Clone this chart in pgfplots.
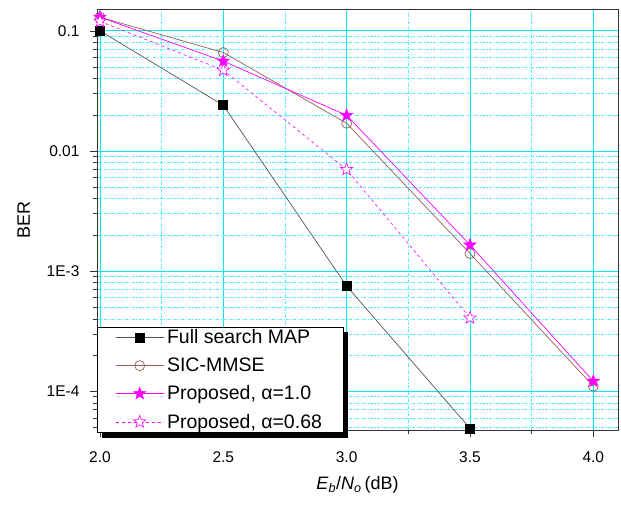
\documentclass[border=0pt]{standalone}
\usepackage{fontspec}
\setmainfont{Liberation Sans}
\usepackage{pgfplots}
\pgfplotsset{compat=1.18}
\usetikzlibrary{shadows}
\makeatletter
\tikzset{no preactions/.code={\let\tikz@preactions\pgfutil@empty}}
\makeatother
\definecolor{sicbrown}{RGB}{150,95,85}
\definecolor{mapgray}{RGB}{85,85,85}
\definecolor{gridcyan}{RGB}{0,235,245}
\definecolor{mag}{RGB}{255,0,255}
\pgfdeclareplotmark{fstar}{%
  \pgfpathmoveto{\pgfqpointpolar{90}{\pgfplotmarksize}}%
  \pgfpathlineto{\pgfqpointpolar{126}{0.42\pgfplotmarksize}}%
  \pgfpathlineto{\pgfqpointpolar{162}{\pgfplotmarksize}}%
  \pgfpathlineto{\pgfqpointpolar{198}{0.42\pgfplotmarksize}}%
  \pgfpathlineto{\pgfqpointpolar{234}{\pgfplotmarksize}}%
  \pgfpathlineto{\pgfqpointpolar{270}{0.42\pgfplotmarksize}}%
  \pgfpathlineto{\pgfqpointpolar{306}{\pgfplotmarksize}}%
  \pgfpathlineto{\pgfqpointpolar{342}{0.42\pgfplotmarksize}}%
  \pgfpathlineto{\pgfqpointpolar{18}{\pgfplotmarksize}}%
  \pgfpathlineto{\pgfqpointpolar{54}{0.42\pgfplotmarksize}}%
  \pgfpathclose
  \pgfusepathqfillstroke}
\begin{document}
\begin{tikzpicture}
\begin{axis}[
  scale only axis, width=521pt, height=421pt,
  xmin=1.988, xmax=4.10,
  ymode=log, ymin=4.75e-5, ymax=0.152,
  xtick={2,2.5,3,3.5,4}, xticklabels={2.0,2.5,3.0,3.5,4.0},
  minor xtick={2.25,2.75,3.25,3.75},
  ytick={1e-4,1e-3,1e-2,1e-1}, yticklabels={1E-4,1E-3,0.01,0.1},
  minor ytick={5e-5,6e-5,7e-5,8e-5,9e-5,2e-4,3e-4,4e-4,5e-4,6e-4,7e-4,8e-4,9e-4,2e-3,3e-3,4e-3,5e-3,6e-3,7e-3,8e-3,9e-3,2e-2,3e-2,4e-2,5e-2,6e-2,7e-2,8e-2,9e-2},
  grid=both,
  major grid style={gridcyan, line width=0.9pt},
  minor grid style={gridcyan!70, dash pattern=on 3pt off 1.5pt on 1pt off 1.5pt, line width=0.6pt},
  tick align=outside, tick pos=left,
  major tick length=7pt, minor tick length=4pt,
  tick style={black!80, line width=0.6pt},
  axis line style={black!80, line width=0.7pt},
  ticklabel style={font=\fontsize{15.5}{18}\selectfont},
  yticklabel style={xshift=-7pt},
  xticklabel style={yshift=-11pt},
  xlabel={\textit{E}\textsubscript{\textit{b}}/\textit{N}\textsubscript{\textit{o}}\,(dB)},
  ylabel={BER},
  label style={font=\fontsize{18}{20}\selectfont},
  xlabel style={yshift=-7pt},
  ylabel style={yshift=10pt},
  legend cell align=left,
  legend style={at={(0,0)}, anchor=south west, yshift=-3pt, draw=black, line width=0.7pt, fill=white,
    font=\fontsize{19.5}{22}\selectfont, inner xsep=18pt, inner ysep=1pt, row sep=8.6pt,
    nodes={inner xsep=3pt, no preactions},
    drop shadow={shadow xshift=5pt, shadow yshift=-5pt, fill=black, opacity=1}},
  legend image code/.code={\draw[no preactions, every mark/.append style={no preactions}, mark repeat=2,mark phase=2] plot coordinates {(0pt,0pt)(24pt,0pt)(48pt,0pt)};},
]
\addplot[mapgray, line width=0.7pt, mark=square*, mark size=4.5pt, mark options={solid, fill=black, draw=black}]
  coordinates {(2.0,0.1)(2.5,0.024)(3.0,7.5e-4)(3.5,4.9e-5)};
\addlegendentry{Full search MAP}
\addplot[sicbrown, line width=0.7pt, mark=o, mark size=5pt, mark options={solid, fill=white, draw=sicbrown}]
  coordinates {(2.0,0.13)(2.5,0.066)(3.0,0.017)(3.5,1.4e-3)(4.0,1.1e-4)};
\addlegendentry{SIC-MMSE}
\addplot[mag, line width=0.7pt, mark=fstar, mark size=6.5pt, mark options={solid, fill=mag, draw=mag, line width=0.5pt}]
  coordinates {(2.0,0.13)(2.5,0.056)(3.0,0.0198)(3.5,1.65e-3)(4.0,1.21e-4)};
\addlegendentry{Proposed, α=1.0}
\addplot[mag, line width=0.6pt, dashed, mark=fstar, mark size=6.5pt, mark options={solid, fill=white, draw=mag, line width=0.6pt}]
  coordinates {(2.0,0.12)(2.5,0.047)(3.0,0.007)(3.5,4.07e-4)};
\addlegendentry{Proposed, α=0.68}
\end{axis}
\pgfresetboundingbox
\path ([xshift=-97pt,yshift=-76pt]current axis.south west) rectangle ([xshift=3pt,yshift=9pt]current axis.north east);
\end{tikzpicture}
\end{document}
